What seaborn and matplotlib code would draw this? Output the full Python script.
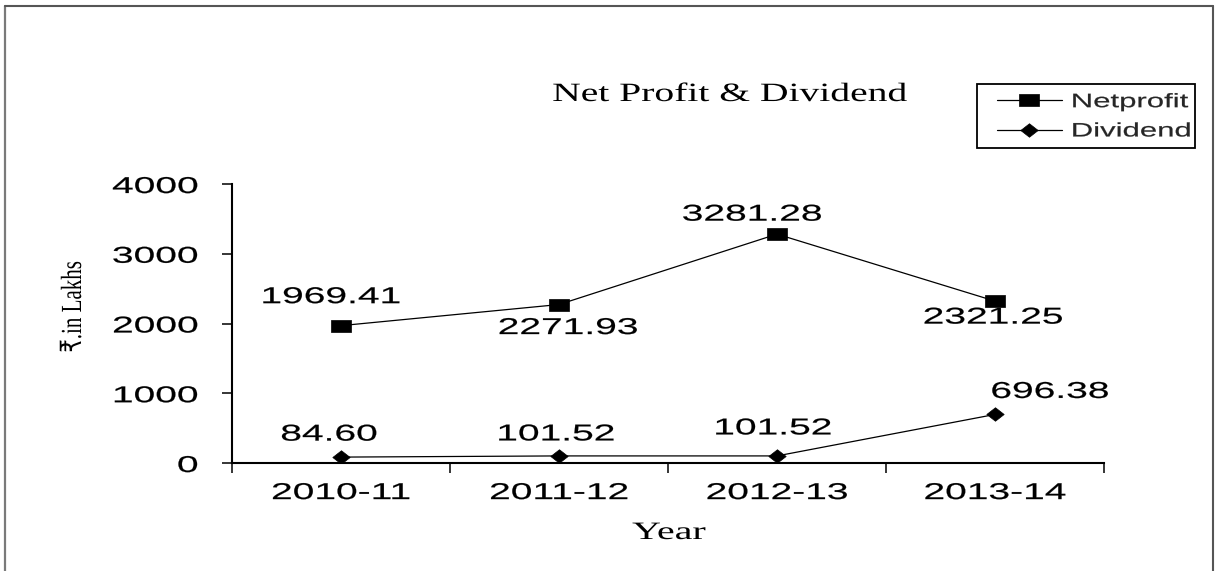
import numpy as np
import pandas as pd
import matplotlib
matplotlib.use("Agg")
import matplotlib.pyplot as plt
import seaborn as sns
from matplotlib.patheffects import AbstractPathEffect
from matplotlib.transforms import Affine2D
from matplotlib.path import Path
from matplotlib.lines import Line2D
from matplotlib.patches import Rectangle

# ---------------- data ----------------
years = ["2010-11", "2011-12", "2012-13", "2013-14"]
net_profit = [1969.41, 2271.93, 3281.28, 2321.25]
dividend = [84.60, 101.52, 101.52, 696.38]
series_names = ["Netprofit", "Dividend"]
y_ticks = [0, 1000, 2000, 3000, 4000]

# label offsets (pixels) from each point
net_offsets = [(-10, 29), (9, -23), (-25, 20), (-2, -16)]
div_offsets = [(-12, 23), (-3, 22), (-4, 28), (55, 23)]

W, H = 1215, 571


class Stretch(AbstractPathEffect):
    """Horizontally stretch text glyphs (along the text direction)."""

    def __init__(self, sx, anchor="center", weight=0.15):
        super().__init__()
        self.sx = sx
        self.anchor = anchor
        self.weight = weight

    def draw_path(self, renderer, gc, tpath, affine, rgbFace=None):
        if len(tpath.vertices) == 0:
            return
        ext = tpath.get_extents()
        if self.anchor == "left":
            a = ext.x0
        elif self.anchor == "right":
            a = ext.x1
        else:
            a = 0.5 * (ext.x0 + ext.x1)
        pre = Affine2D().translate(-a, 0).scale(self.sx, 1).translate(a, 0)
        gc0 = renderer.new_gc()
        gc0.copy_properties(gc)
        if self.weight > 0 and rgbFace is not None:
            gc0.set_linewidth(self.weight)
            gc0.set_foreground(rgbFace)
            gc0.set_joinstyle("round")
        renderer.draw_path(gc0, tpath, pre + affine, rgbFace)
        gc0.restore()


sns.set_style("white")

sq_marker = Path([(-0.8, -0.5), (0.8, -0.5), (0.8, 0.5), (-0.8, 0.5), (-0.8, -0.5)],
                 [Path.MOVETO, Path.LINETO, Path.LINETO, Path.LINETO, Path.CLOSEPOLY])
dia_marker = Path([(-1, 0), (0, 0.78), (1, 0), (0, -0.78), (-1, 0)],
                  [Path.MOVETO, Path.LINETO, Path.LINETO, Path.LINETO, Path.CLOSEPOLY])

fig = plt.figure(figsize=(W / 100, H / 100), dpi=100)
fig.patch.set_facecolor("white")
ax = fig.add_axes([232 / W, 1 - 463 / H, (1104 - 232) / W, (463 - 184) / H])

pos = np.arange(len(years))
df = pd.DataFrame({"pos": pos, "Year": years,
                   "Netprofit": net_profit, "Dividend": dividend})

line_kw = dict(color="black", linewidth=0.9, markerfacecolor="black",
               markeredgecolor="black", markeredgewidth=0.5)
sns.lineplot(data=df, x="pos", y="Netprofit", ax=ax, marker=sq_marker,
             markersize=13.7, legend=False, **line_kw)
sns.lineplot(data=df, x="pos", y="Dividend", ax=ax, marker=dia_marker,
             markersize=12.5, legend=False, **line_kw)

ax.set_xlim(-0.5, len(years) - 0.5)
ax.set_ylim(y_ticks[0], y_ticks[-1])
ax.set_xticks(pos, labels=years)
ax.set_xticks(np.arange(-0.5, len(years), 1.0), minor=True)
ax.set_yticks(y_ticks, labels=[str(v) for v in y_ticks])
ax.set_xlabel("")
ax.set_ylabel("")

for s in ["top", "right"]:
    ax.spines[s].set_visible(False)
for s in ["left", "bottom"]:
    ax.spines[s].set_color("black")
    ax.spines[s].set_linewidth(1.5)

ax.tick_params(axis="x", which="major", length=0, pad=13.0)
ax.tick_params(axis="x", which="minor", length=7.5, width=1.1, color="black",
               direction="out", bottom=True)
ax.tick_params(axis="y", which="major", length=7.2, width=1.1, color="black",
               direction="out", pad=17.3, left=True)

for t in ax.get_xticklabels():
    t.set_fontfamily("Liberation Sans")
    t.set_fontsize(16.5)
    t.set_color("black")
    t.set_path_effects([Stretch(1.7, "center")])
for t in ax.get_yticklabels():
    t.set_fontfamily("Liberation Sans")
    t.set_fontsize(16.5)
    t.set_color("black")
    t.set_path_effects([Stretch(1.7, "right")])

# data labels
for xi, v, off in zip(pos, net_profit, net_offsets):
    ax.annotate(f"{v:.2f}", (xi, v), xytext=off, textcoords="offset pixels",
                ha="center", va="center", fontsize=16.5, family="Liberation Sans",
                color="black", path_effects=[Stretch(1.7)])
for xi, v, off in zip(pos, dividend, div_offsets):
    ax.annotate(f"{v:.2f}", (xi, v), xytext=off, textcoords="offset pixels",
                ha="center", va="center", fontsize=16.5, family="Liberation Sans",
                color="black", path_effects=[Stretch(1.7)])

# legend
h1 = Line2D([], [], marker=sq_marker, markersize=13.7, **line_kw)
h2 = Line2D([], [], marker=dia_marker, markersize=12.5, **line_kw)
leg = ax.legend([h1, h2], series_names, loc="center left",
                bbox_to_anchor=(997 / W, 1 - 117 / H), bbox_transform=fig.transFigure,
                frameon=False, borderpad=0, borderaxespad=0, handlelength=3.34,
                handletextpad=0.5, labelspacing=0.6,
                prop={"family": "Liberation Sans", "size": 14})
for t in leg.get_texts():
    t.set_path_effects([Stretch(1.6, "left")])
fig.add_artist(Rectangle((977 / W, 1 - 148 / H), 218 / W, 64 / H,
                         transform=fig.transFigure, fill=False,
                         edgecolor="black", linewidth=1.3))

# titles
fig.text(730 / W, 1 - 95 / H, "Net Profit & Dividend", ha="center", va="center",
         family="Liberation Serif", fontsize=19, color="black",
         path_effects=[Stretch(1.5, weight=0)])
fig.text(669 / W, 1 - 533 / H, "Year", ha="center", va="center",
         family="Liberation Serif", fontsize=18, color="black",
         path_effects=[Stretch(1.6, weight=0)])
fig.text(74 / W, 1 - 307 / H, "₹.in Lakhs", ha="center", va="center", rotation=90,
         family=["Liberation Serif", "DejaVu Sans"], fontsize=21, color="black",
         path_effects=[Stretch(0.72, weight=0)])

# outer frame (left, top, right)
fig.add_artist(Line2D([4.5 / W, 4.5 / W], [0, 1 - 6 / H], transform=fig.transFigure,
                      color="#7a7a7a", linewidth=1.6))
fig.add_artist(Line2D([4.5 / W, 1213 / W], [1 - 6 / H, 1 - 6 / H],
                      transform=fig.transFigure, color="#555555", linewidth=1.5))
fig.add_artist(Line2D([1213 / W, 1213 / W], [0, 1 - 6 / H], transform=fig.transFigure,
                      color="#555555", linewidth=1.5))

fig.savefig("out.png", dpi=100, facecolor="white")
